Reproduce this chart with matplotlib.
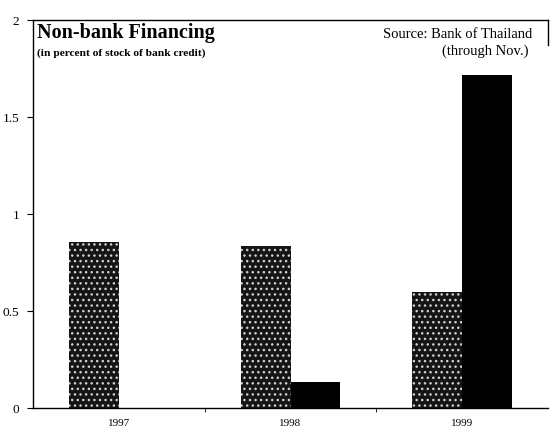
import matplotlib.pyplot as plt
import numpy as np

years = ["1997", "1998", "1999"]
dotted_vals = [0.855, 0.835, 0.60]
black_vals = [0.0, 0.135, 1.715]
y_ticks = [0, 0.5, 1, 1.5, 2]
y_tick_labels = ["0", "0.5", "1", "1.5", "2"]

plt.rcParams['font.family'] = ['Liberation Serif', 'DejaVu Serif']
plt.rcParams['hatch.linewidth'] = 1.0

fig = plt.figure(figsize=(5.5, 4.33), dpi=100)
ax = fig.add_axes([0.06, 0.0577, 0.9364, 0.8961])

x = np.arange(len(years))
w = 0.29
ax.bar(x - w / 2, dotted_vals, w, color='#151515', edgecolor='#cfcfcf',
       hatch='...', linewidth=0)
ax.bar(x + w / 2, black_vals, w, color='black', linewidth=0)

ax.set_xlim(-0.5, 2.5)
ax.set_ylim(0, 2)
ax.set_xticks(x)
ax.set_xticklabels(years, fontsize=8)
ax.tick_params(axis='x', length=0, pad=8)
ax.set_xticks([0.5, 1.5], minor=True)
ax.tick_params(axis='x', which='minor', length=3, direction='out')
ax.set_yticks(y_ticks)
ax.set_yticklabels(y_tick_labels, fontsize=9.5)
ax.tick_params(axis='y', length=4, direction='out', pad=6)

for s in ax.spines.values():
    s.set_linewidth(1.0)
ax.spines['right'].set_bounds(1.87, 2)

fig.text(37 / 550, 1 - 33 / 433, "Non-bank Financing", fontsize=14.5,
         fontweight='bold', va='center', ha='left')
fig.text(37 / 550, 1 - 53 / 433, "(in percent of stock of bank credit)",
         fontsize=8.2, fontweight='bold', va='center', ha='left')
fig.text(532 / 550, 1 - 34 / 433, "Source: Bank of Thailand", fontsize=10.5,
         va='center', ha='right')
fig.text(528 / 550, 1 - 51 / 433, "(through Nov.)", fontsize=10.5,
         va='center', ha='right')

fig.savefig("out.png", dpi=100)
